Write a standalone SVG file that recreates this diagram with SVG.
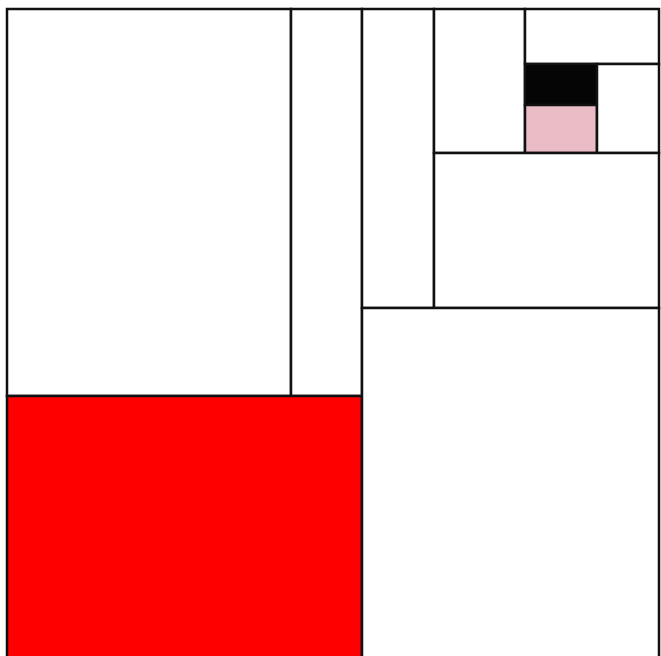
<svg xmlns="http://www.w3.org/2000/svg" width="661" height="656" viewBox="0 0 661 656">
<style>
.c{stroke:#111;stroke-width:2.5;fill:#fff}
.red{fill:#fe0000}
.blk{fill:#050505}
.pink{fill:#e9bcc6}
</style>
<rect x="0" y="0" width="661" height="656" fill="#fff"/>
<g id="cell-top-left"><rect class="c" x="7" y="9" width="284" height="387"/></g>
<g id="cell-strip-1"><rect class="c" x="291" y="9" width="71" height="387"/></g>
<g id="cell-red"><rect class="c red" x="7" y="396" width="355" height="264"/></g>
<g id="cell-strip-2"><rect class="c" x="362" y="9" width="72" height="299"/></g>
<g id="cell-strip-3"><rect class="c" x="434" y="9" width="91" height="144"/></g>
<g id="cell-top-right"><rect class="c" x="525" y="9" width="134" height="55"/></g>
<g id="cell-black"><rect class="c blk" x="525" y="64" width="72" height="41"/></g>
<g id="cell-pink"><rect class="c pink" x="525" y="105" width="72" height="48"/></g>
<g id="cell-small-right"><rect class="c" x="597" y="64" width="62" height="89"/></g>
<g id="cell-mid-right"><rect class="c" x="434" y="153" width="225" height="155"/></g>
<g id="cell-bottom-right"><rect class="c" x="362" y="308" width="297" height="352"/></g>
<g id="connectors"></g>
</svg>
